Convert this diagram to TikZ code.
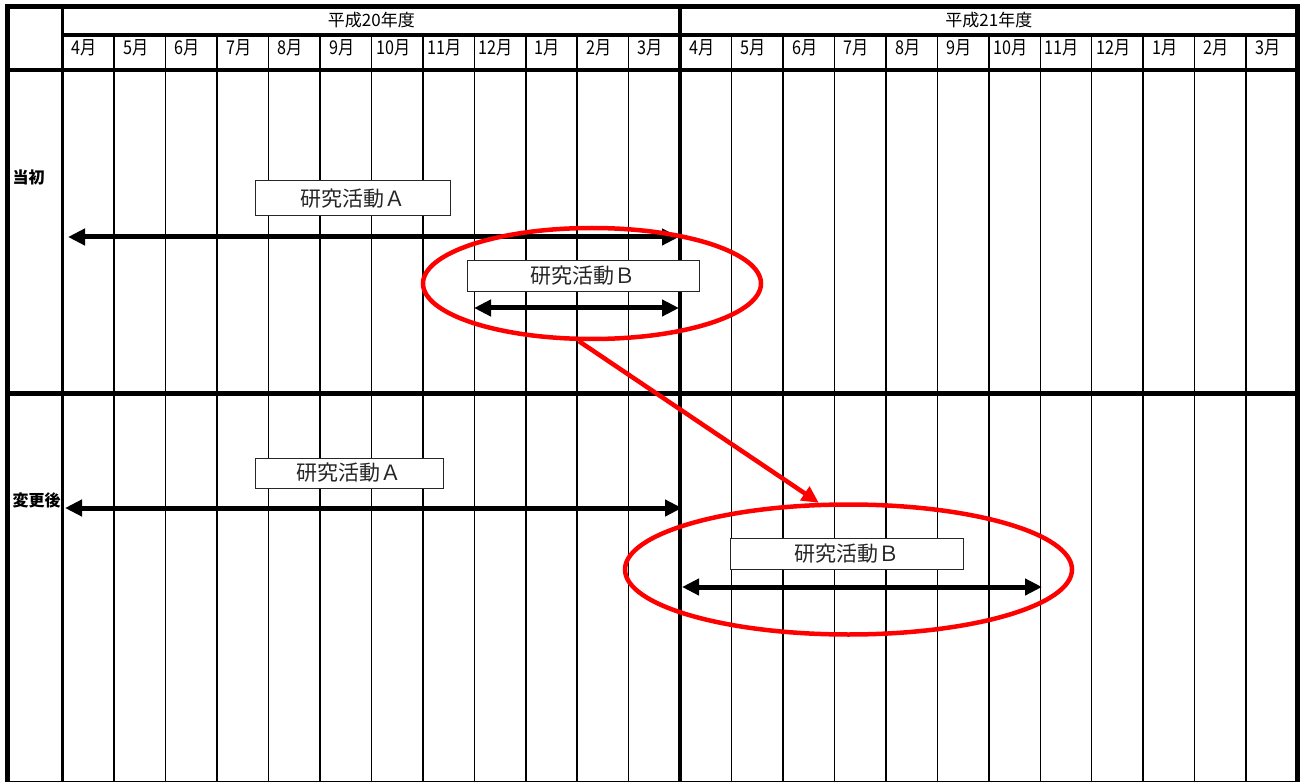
\documentclass[tikz,border=0pt]{standalone}
\usepackage{fontspec}
\newfontfamily\jp{Noto Sans CJK JP}
\newfontfamily\jpn[FakeStretch=0.85]{Noto Sans CJK JP}
\usetikzlibrary{arrows.meta,shapes.geometric}
\begin{document}
\begin{tikzpicture}[x=1pt,y=-1pt,
  frameline/.style={line width=5pt},
  midline/.style={line width=4.5pt},
  hdrline/.style={line width=3.3pt},
  monthline/.style={line width=1.5pt},
  bar/.style={line width=5pt,{Triangle[length=17pt,width=16pt]}-{Triangle[length=17pt,width=16pt]}},
  actbox/.style={draw=black!85,line width=1pt,fill=white,inner sep=0pt,text=black!85,font=\jp\fontsize{21}{21}\selectfont},
  ring/.style={ellipse,draw=red,line width=4.5pt,inner sep=0pt},
  redarrow/.style={draw=red,line width=4.5pt,-{Triangle[length=17pt,width=16pt]}},
  mlabel/.style={font=\jpn\fontsize{19}{19}\selectfont,inner sep=0pt},
  ylabel/.style={font=\jp\fontsize{17}{17}\selectfont,inner sep=0pt},
  rlabel/.style={font=\jp\bfseries\fontsize{16}{16}\selectfont,inner sep=0pt,anchor=west}
]
\useasboundingbox (0,0) rectangle (1303,783);
% month lines
\foreach \i in {1,...,11,13,14,...,23}
  \draw[monthline] ({62.7+51.45*\i},35) -- ({62.7+51.45*\i},781.7);
% header lines
\draw[hdrline] (62.5,35) -- (1297.5,35);
\draw[hdrline] (7,70) -- (1297.5,70);
\draw[midline] (7,393.3) -- (1297.5,393.3);
\draw[line width=1.5pt] (7,781.7) -- (1297.5,781.7);
% thick verticals
\draw[hdrline] (62.5,6.5) -- (62.5,782);
\draw[midline] (680.2,6.5) -- (680.2,782);
\draw[frameline] (7.5,4) -- (7.5,782);
\draw[frameline] (1297.5,4) -- (1297.5,782);
\draw[frameline] (5,6.5) -- (1300,6.5);
% year labels
\node[ylabel] (y20) at (371.4,20.5) {平成20年度};
\node[ylabel] (y21) at (988.9,20.5) {平成21年度};
% month labels
\foreach \m [count=\i from 0] in {4,5,6,7,8,9,10,11,12,1,2,3,4,5,6,7,8,9,10,11,12,1,2,3}
  \node[mlabel] (mon\i) at ({62.7+51.45*(\i+0.5)-4},47.5) {\m 月};
% row labels
\node[rlabel] (r1) at (12.5,177.5) {当初};
\node[rlabel] (r2) at (12.5,500.5) {変更後};
% top section
\node[actbox,minimum width=195pt,minimum height=35pt] (bA1) at (352.5,198.5) {研究活動Ａ};
\node[actbox,minimum width=232pt,minimum height=31pt] (bB1) at (583,276) {研究活動Ｂ};
\coordinate (aA1l) at (68,237);
\coordinate (aA1r) at (679,237);
\coordinate (aB1l) at (474,308);
\coordinate (aB1r) at (679,308);
\draw[bar] (aA1l) -- (aA1r);
\draw[bar] (aB1l) -- (aB1r);
% bottom section
\node[actbox,minimum width=188pt,minimum height=30pt] (bA2) at (349,473) {研究活動Ａ};
\node[actbox,minimum width=233pt,minimum height=31pt] (bB2) at (846.5,553.5) {研究活動Ｂ};
\coordinate (aA2l) at (65,508);
\coordinate (aA2r) at (682,508);
\coordinate (aB2l) at (682,587);
\coordinate (aB2r) at (1042,587);
\draw[bar] (aA2l) -- (aA2r);
\draw[bar] (aB2l) -- (aB2r);
% red highlights
\node[ring,minimum width=338pt,minimum height=111pt] (e1) at (592,283.5) {};
\node[ring,minimum width=447pt,minimum height=130pt] (e2) at (848.5,569.5) {};
\draw[redarrow] (e1.257) -- (e2.114);
\end{tikzpicture}
\end{document}
